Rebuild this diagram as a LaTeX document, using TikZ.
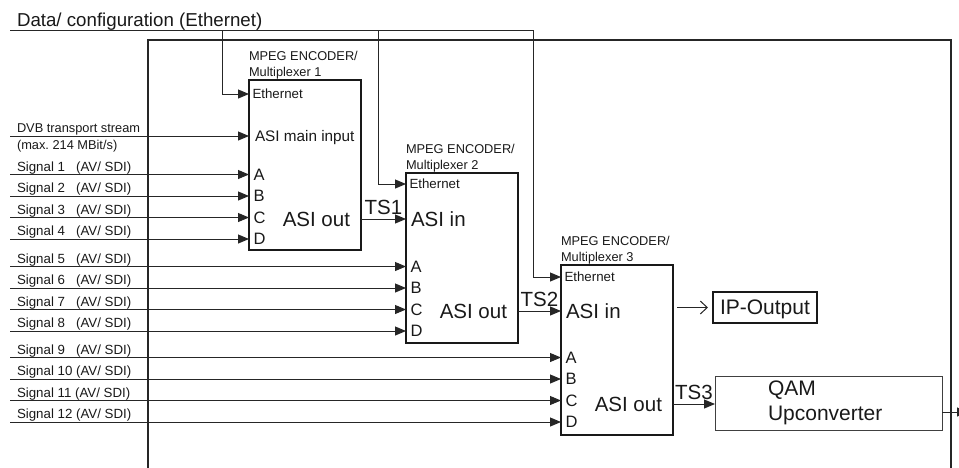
\documentclass[tikz,border=0pt]{standalone}
\usepackage{fontspec}
\setmainfont{Liberation Sans}
\usepackage{tikz}
\usetikzlibrary{arrows.meta,positioning,calc}

\begin{document}
\begin{tikzpicture}[
    x=1pt, y=-1pt,
    every node/.style={inner sep=0pt, outer sep=0pt, text=black!90},
    frame/.style={draw=black!85, line width=2.6pt},
    mux/.style={rectangle, draw=black!90, line width=2pt, minimum width=112pt, minimum height=170pt, anchor=north west},
    muxtitle/.style={font=\fontsize{12.8}{16}\selectfont, align=left, anchor=south west},
    ethport/.style={font=\fontsize{13.3}{14}\selectfont, anchor=west, inner xsep=3.5pt, text depth=0pt},
    port/.style={font=\fontsize{16.5}{17}\selectfont, anchor=west, inner xsep=4.5pt, text depth=0pt},
    bigtext/.style={font=\fontsize{20.5}{22}\selectfont, text depth=0pt},
    siglabel/.style={font=\fontsize{13.3}{15}\selectfont, anchor=south west, inner ysep=0.6pt},
    wire/.style={draw=black!85, line width=1pt},
    sig/.style={wire, -{Triangle[length=11pt,width=9pt]}},
    tslabel/.style={bigtext, midway, anchor=south, yshift=5pt}
]
\useasboundingbox (0,0) rectangle (959,467);

% housing
\draw[frame] (148,480) -- (148,40) -- (951,40) -- (951,480);

% encoders / multiplexers
\node[mux] (m1) at (249,80) {};
\node[mux] (m2) at (406,173) {};
\node[mux] (m3) at (561,265) {};
\foreach \m in {1,2,3}
  \node[muxtitle] (t\m) at ([yshift=1pt]m\m.north west) {MPEG ENCODER/\\Multiplexer \m};

% inputs on the boxes
\node[ethport] (m1eth) at (m1.west |- 0,94) {Ethernet};
\node[ethport] (m2eth) at (m2.west |- 0,184) {Ethernet};
\node[ethport] (m3eth) at (m3.west |- 0,277) {Ethernet};
\node[port, font=\fontsize{15.3}{16}\selectfont, inner xsep=6pt] (m1main) at (m1.west |- 0,136) {ASI main input};
\node[port, bigtext, inner xsep=5pt] (m2in) at (m2.west |- 0,219) {ASI in};
\node[port, bigtext, inner xsep=5pt] (m3in) at (m3.west |- 0,311) {ASI in};

% outputs
\node[bigtext, anchor=east, xshift=-11pt] (m1out) at (m1.east |- 0,219) {ASI out};
\node[bigtext, anchor=east, xshift=-11pt] (m2out) at (m2.east |- 0,311) {ASI out};
\node[bigtext, anchor=east, xshift=-11pt] (m3out) at (m3.east |- 0,404) {ASI out};

\node[draw=black!90, line width=2pt, anchor=west, minimum height=31pt, inner xsep=7pt, font=\fontsize{21}{22}\selectfont, text depth=0pt] (ipout) at (713,307.5) {IP-Output};
\node[draw=black!75, line width=0.9pt, anchor=north west, minimum width=227pt, minimum height=54pt, text width=121pt, inner xsep=53pt, align=left, font=\fontsize{21}{25}\selectfont] (qam) at (715,376) {QAM\\Upconverter};

% Ethernet bus
\coordinate (eth0) at (10,30);
\coordinate (tap1) at (222,30);
\coordinate (tap2) at (378,30);
\coordinate (tap3) at (533,30);
\node[font=\fontsize{18.7}{20}\selectfont, anchor=south west] (datacfg) at (17,30) {Data/ configuration (Ethernet)};
\draw[wire] (eth0) -- (tap3);
\draw[sig] (tap1) |- (m1eth.west);
\draw[sig] (tap2) |- (m2eth.west);
\draw[sig] (tap3) |- (m3eth.west);

% DVB stream
\coordinate (dvbin) at (10,136);
\node[siglabel, font=\fontsize{12.8}{15}\selectfont] (dvb) at (17,136) {DVB transport stream};
\node[siglabel, anchor=north west, font=\fontsize{12.8}{14}\selectfont] (dvbmax) at (17,140) {(max.\ 214 MBit/s)};
\draw[sig] (dvbin) -- (m1main.west);

% signals 1..12
\foreach \m/\ya/\first in {1/174.5/1, 2/266.5/5, 3/357.5/9}
  \foreach \p [count=\i from 0] in {A,B,C,D} {
    \pgfmathtruncatemacro{\n}{\first+\i}
    \pgfmathsetmacro{\yy}{\ya+21.5*\i}
    \node[port] (m\m\p) at (m\m.west |- 0,\yy) {\p};
    \coordinate (s\n) at (10,\yy);
    \node[siglabel] (l\n) at (17,\yy) {Signal \n\ifnum\n<10\phantom{0}\fi{} (AV/ SDI)};
    \draw[sig] (s\n) -- (m\m\p.west);
  }

% transport streams
\draw[sig] (m1.east |- m1out) -- node[tslabel] (ts1) {TS1} (m2in.west);
\draw[sig] (m2.east |- m2out) -- node[tslabel] (ts2) {TS2} (m3in.west);
\draw[sig] (m3.east |- m3out) -- node[tslabel] (ts3) {TS3} (qam.west |- m3out);

\coordinate (ipstart) at ($(m3.east |- ipout)+(4,0)$);
\draw[wire, -{Straight Barb[length=7pt,width=13pt]}] (ipstart) -- ([xshift=-5pt]ipout.west);

\coordinate (rfout) at (968,412);
\draw[sig] (qam.east |- rfout) -- (rfout);
\end{tikzpicture}
\end{document}
